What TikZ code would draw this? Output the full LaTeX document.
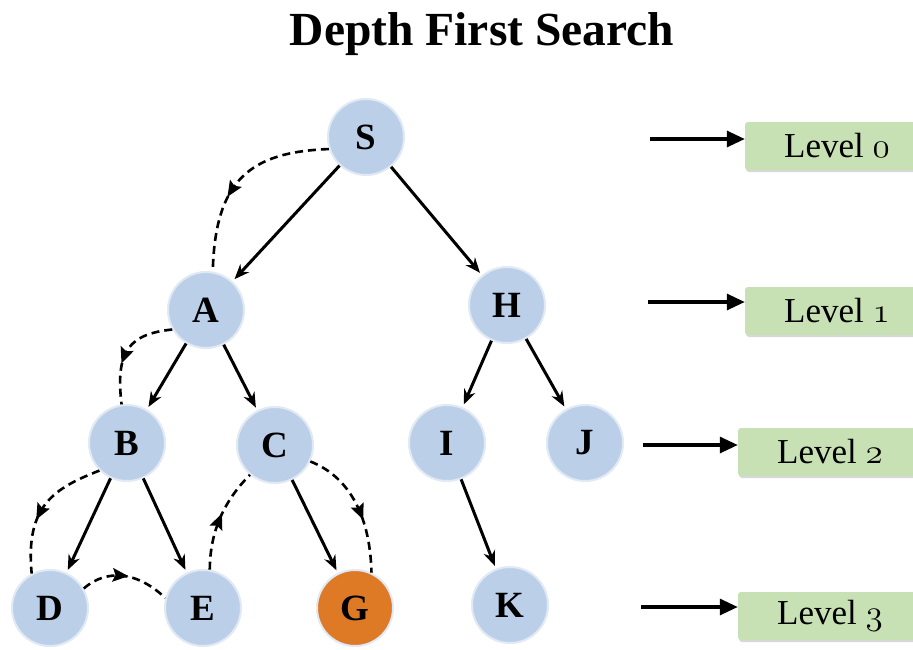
\documentclass[tikz,border=0pt]{standalone}
\usepackage{fix-cm}
\usepackage{fontspec}
\setmainfont{Liberation Serif}
\usetikzlibrary{arrows.meta,decorations.markings,shadows}
\definecolor{nodeblue}{RGB}{187,208,232}
\definecolor{nodeedge}{RGB}{224,233,244}
\definecolor{gorange}{RGB}{222,122,38}
\definecolor{lvgreen}{RGB}{200,225,180}
\newcommand{\osnum}[1]{{\fontencoding{OML}\fontfamily{cmm}\fontseries{m}\fontshape{it}\selectfont #1}}
\begin{document}
\begin{tikzpicture}[x=1pt,y=-1pt,
  vertex/.style={circle,minimum size=76pt,inner sep=0pt,fill=nodeblue,draw=nodeedge,line width=2pt,font=\fontsize{37}{37}\selectfont\bfseries},
  tree/.style={-{Stealth[length=15pt,width=12pt]},line width=3pt,shorten >=3pt},
  back/.style={dash pattern=on 8pt off 5pt,line width=2.6pt,postaction={decorate},
    decoration={markings,mark=at position #1 with {\fill[solid] (7pt,0pt) -- (-9pt,7pt) -- (-6pt,0pt) -- (-9pt,-7pt) -- cycle;}}},
  levelbox/.style={rectangle,rounded corners=3pt,fill=lvgreen,minimum width=184pt,minimum height=48pt,
    font=\fontsize{35}{35}\selectfont,
    drop shadow={shadow xshift=1pt,shadow yshift=-2pt,opacity=0.3}},
  levarrow/.style={-{Triangle[length=18pt,width=16pt]},line width=3.2pt}]
\path[fill=white] (0,0) rectangle (913,649);
\useasboundingbox (0,0) rectangle (913,649);

\node[font=\fontsize{47.5}{47.5}\selectfont\bfseries,anchor=base] (title) at (482,45) {Depth First Search};

\node[vertex] (S) at (366,137) {S};
\node[vertex] (A) at (206,310) {A};
\node[vertex] (H) at (507,305) {H};
\node[vertex] (B) at (127,443) {B};
\node[vertex] (C) at (275,445) {C};
\node[vertex] (I) at (447,443) {I};
\node[vertex] (J) at (585,443) {J};
\node[vertex] (D) at (50,608) {D};
\node[vertex] (E) at (203,608) {E};
\node[vertex,fill=gorange] (G) at (355,608) {G};
\node[vertex] (K) at (510,605) {K};

\draw[tree] (S) -- (A);
\draw[tree] (S) -- (H);
\draw[tree] (A) -- (B);
\draw[tree] (A) -- (C);
\draw[tree] (H) -- (I);
\draw[tree] (H) -- (J);
\draw[tree] (B) -- (D);
\draw[tree] (B) -- (E);
\draw[tree] (C) -- (G);
\draw[tree] (I) -- (K);

\draw[back=0.57] (S.198) .. controls (250,152) and (215,180) .. (A.80);
\draw[back=0.55] (A.210) .. controls (130,334) and (115,350) .. (B.98);
\draw[back=0.55] (B.225) .. controls (55,488) and (25,505) .. (D.118);
\draw[back=0.45] (D.30) .. controls (100,574) and (130,565) .. (E.165);
\draw[back=0.48] (E.80) .. controls (210,530) and (225,500) .. (C.230);
\draw[back=0.55] (C.335) .. controls (345,475) and (370,510) .. (G.65);

\node[levelbox] (L0) at (837,146) {Level \osnum{0}};
\node[levelbox] (L1) at (837,311) {Level \osnum{1}};
\node[levelbox] (L2) at (830,452) {Level \osnum{2}};
\node[levelbox] (L3) at (830,616) {Level \osnum{3}};

\coordinate (t0) at (650,139);
\coordinate (t1) at (648,302);
\coordinate (t2) at (643,445);
\coordinate (t3) at (641,607);
\draw[levarrow] (t0) -- (t0 -| L0.west);
\draw[levarrow] (t1) -- (t1 -| L1.west);
\draw[levarrow] (t2) -- (t2 -| L2.west);
\draw[levarrow] (t3) -- (t3 -| L3.west);
\end{tikzpicture}
\end{document}
